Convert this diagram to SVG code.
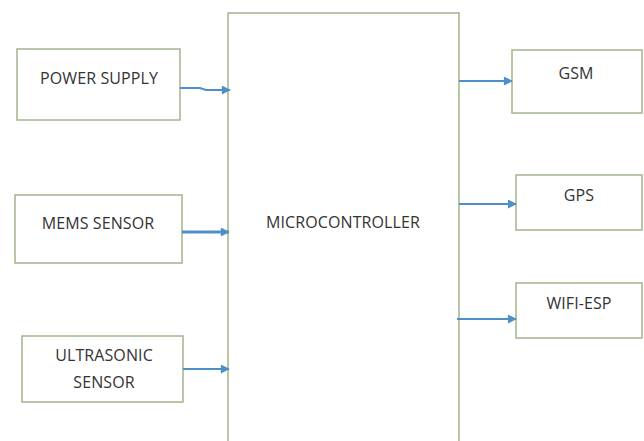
<svg xmlns="http://www.w3.org/2000/svg" width="644" height="441" viewBox="0 0 644 441">
<style>
.box{fill:#fff;stroke:#a4b48c;stroke-width:1.5}
.t{font-family:"Open Sans","Liberation Sans",sans-serif;font-size:16px;letter-spacing:0.1px;fill:#333;text-anchor:middle}
.c{stroke:#4f8fc8;stroke-width:2;fill:none;marker-end:url(#ah)}
</style>
<defs>
<marker id="ah" viewBox="0 0 10 10" refX="9" refY="5" markerWidth="11" markerHeight="9" orient="auto" markerUnits="userSpaceOnUse">
<path d="M0,0 L10,5 L0,10 z" fill="#4f8fc8"/>
</marker>
</defs>
<rect width="644" height="441" fill="#fff"/>
<g id="microcontroller">
<path class="box" d="M228,442 V13 H459 V442"/>
<text class="t" x="343" y="228">MICROCONTROLLER</text>
</g>
<g id="power">
<rect class="box" x="17" y="49" width="163" height="71"/>
<text class="t" x="99" y="84">POWER SUPPLY</text>
</g>
<g id="mems">
<rect class="box" x="15" y="195" width="167" height="68"/>
<text class="t" x="98" y="229">MEMS SENSOR</text>
</g>
<g id="ultrasonic">
<rect class="box" x="22" y="336" width="161" height="66"/>
<text class="t" x="104" y="361">ULTRASONIC</text>
<text class="t" x="104" y="388">SENSOR</text>
</g>
<g id="gsm">
<rect class="box" x="512" y="50" width="130" height="63"/>
<text class="t" x="576" y="79">GSM</text>
</g>
<g id="gps">
<rect class="box" x="516" y="175" width="126" height="55"/>
<text class="t" x="579" y="201">GPS</text>
</g>
<g id="wifi">
<rect class="box" x="516" y="283" width="126" height="55"/>
<text class="t" x="579" y="309">WIFI-ESP</text>
</g>
<g id="connectors">
<path class="c" d="M180,88 H200 L206,90 H230"/>
<path class="c" d="M182,232 H229" style="stroke-width:3"/>
<path class="c" d="M183,369 H229"/>
<path class="c" d="M459,81 H512"/>
<path class="c" d="M459,204 H516"/>
<path class="c" d="M457,319 H516"/>
</g>
</svg>
